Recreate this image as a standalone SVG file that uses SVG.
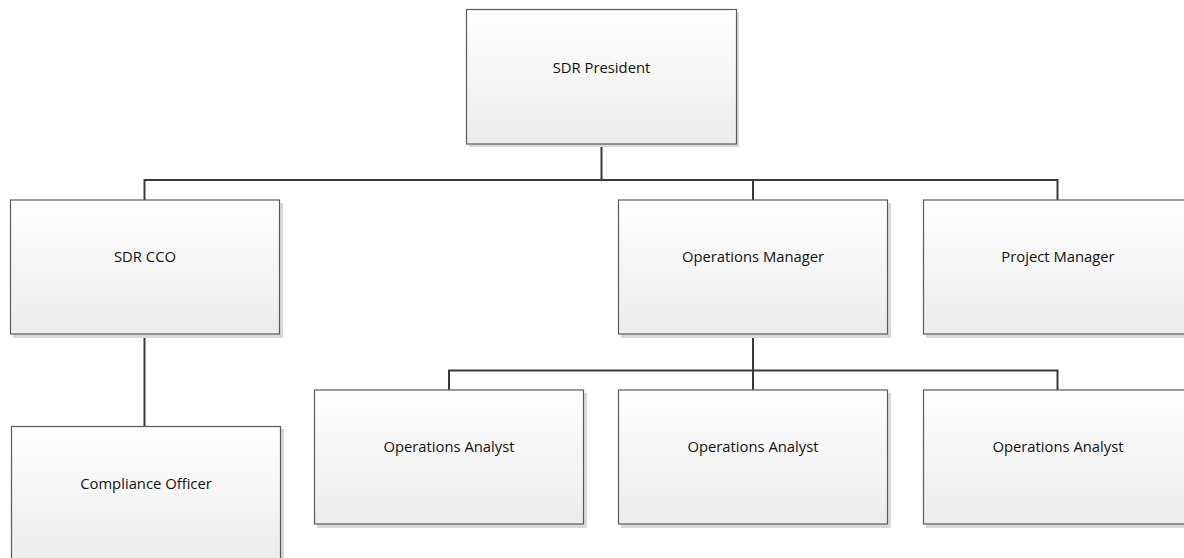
<svg xmlns="http://www.w3.org/2000/svg" width="1184" height="558" viewBox="0 0 1184 558">
<defs>
<linearGradient id="g" x1="0" y1="0" x2="0" y2="1">
<stop offset="0" stop-color="#ffffff"/>
<stop offset="1" stop-color="#ececec"/>
</linearGradient>
<style>
.sh{fill:#d9d9d9;}
.bx{fill:url(#g);stroke:#5a5a5a;stroke-width:1.2;}
.t{font-family:"Open Sans","Liberation Sans",sans-serif;font-size:14.8px;fill:#111;text-anchor:middle;}
.c{fill:none;stroke:#3a3a3a;stroke-width:2;}
</style>
</defs>
<rect width="1184" height="558" fill="#ffffff"/>
<g id="connectors">
<line class="c" x1="601.5" y1="144" x2="601.5" y2="180"/>
<polyline class="c" points="144.5,200 144.5,180 1057.5,180 1057.5,200"/>
<line class="c" x1="753" y1="180" x2="753" y2="200"/>
<line class="c" x1="144.5" y1="334" x2="144.5" y2="426"/>
<line class="c" x1="753" y1="334" x2="753" y2="390"/>
<polyline class="c" points="449,390 449,370.5 1057.5,370.5 1057.5,390"/>
</g>
<g id="president">
<rect class="sh" x="469" y="12" width="270" height="135"/>
<rect class="bx" x="466.5" y="9.5" width="270" height="134.5"/>
<text class="t" x="601.5" y="73">SDR President</text>
</g>
<g id="cco">
<rect class="sh" x="13" y="203" width="270" height="135"/>
<rect class="bx" x="10.5" y="200" width="269" height="134"/>
<text class="t" x="145" y="262">SDR CCO</text>
</g>
<g id="opsmanager">
<rect class="sh" x="621" y="203" width="270" height="135"/>
<rect class="bx" x="618.5" y="200" width="269" height="134"/>
<text class="t" x="753" y="262">Operations Manager</text>
</g>
<g id="projectmanager">
<rect class="sh" x="926" y="203" width="270" height="135"/>
<rect class="bx" x="923.5" y="200" width="269" height="134"/>
<text class="t" x="1058" y="262">Project Manager</text>
</g>
<g id="analyst1">
<rect class="sh" x="317" y="393" width="270" height="135"/>
<rect class="bx" x="314.5" y="390" width="269" height="134"/>
<text class="t" x="449" y="452">Operations Analyst</text>
</g>
<g id="analyst2">
<rect class="sh" x="621" y="393" width="270" height="135"/>
<rect class="bx" x="618.5" y="390" width="269" height="134"/>
<text class="t" x="753" y="452">Operations Analyst</text>
</g>
<g id="analyst3">
<rect class="sh" x="926" y="393" width="270" height="135"/>
<rect class="bx" x="923.5" y="390" width="269" height="134"/>
<text class="t" x="1058" y="452">Operations Analyst</text>
</g>
<g id="compliance">
<rect class="sh" x="14" y="429" width="270" height="135"/>
<rect class="bx" x="11.5" y="426.5" width="269" height="134"/>
<text class="t" x="146" y="489">Compliance Officer</text>
</g>
</svg>
